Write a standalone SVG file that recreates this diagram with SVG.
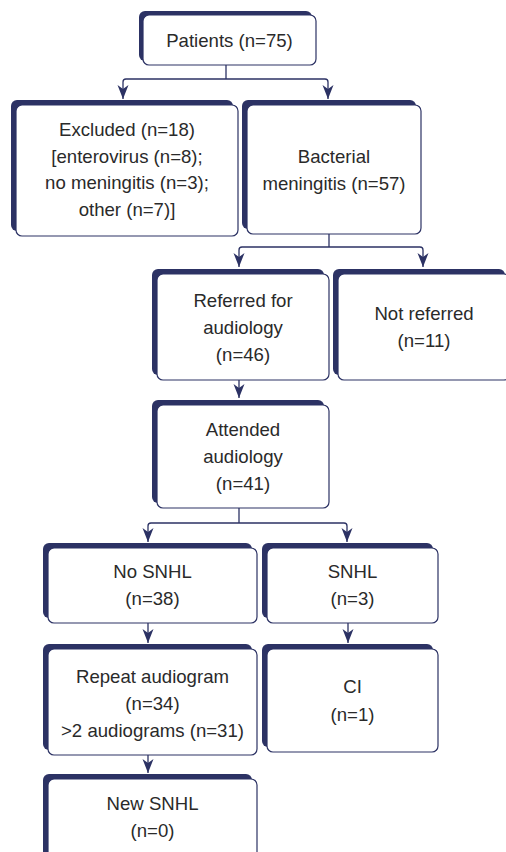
<svg xmlns="http://www.w3.org/2000/svg" width="506" height="852" viewBox="0 0 506 852">
<defs>
<style>
.sh{fill:#2c3264;}
.bx{fill:#fff;stroke:#2c3264;stroke-width:1.2;}
.t{font-family:"Liberation Sans",Arial,sans-serif;font-size:18.6px;fill:#2a2a2a;text-anchor:middle;}
.c{fill:none;stroke:#2c3264;stroke-width:1.3;}
</style>
<marker id="ah" markerUnits="userSpaceOnUse" markerWidth="17" markerHeight="14" viewBox="-15 -7 16 14" refX="0" refY="0" orient="auto">
<path d="M0,0 L-14,-5.5 L-10,0 L-14,5.5 Z" fill="#2c3264"/>
</marker>
</defs>
<rect width="506" height="852" fill="#fff"/>
<g id="connectors">
<path class="c" d="M226,65 V79"/>
<path class="c" d="M123,82 Q123,79 126,79 H325 Q328,79 328,82 V99" marker-end="url(#ah)"/>
<path class="c" d="M123,82 V99" marker-end="url(#ah)"/>
<path class="c" d="M329,234 V247"/>
<path class="c" d="M239,250 Q239,247 242,247 H420 Q423,247 423,250 V267" marker-end="url(#ah)"/>
<path class="c" d="M239,250 V267" marker-end="url(#ah)"/>
<path class="c" d="M239,380 V398" marker-end="url(#ah)"/>
<path class="c" d="M239,508 V523"/>
<path class="c" d="M148,526 Q148,523 151,523 H344 Q347,523 347,526 V542" marker-end="url(#ah)"/>
<path class="c" d="M148,526 V542" marker-end="url(#ah)"/>
<path class="c" d="M148,623 V643" marker-end="url(#ah)"/>
<path class="c" d="M348,623 V643" marker-end="url(#ah)"/>
<path class="c" d="M148,755 V773" marker-end="url(#ah)"/>
</g>
<g id="patients">
<rect class="sh" x="139" y="11" width="173" height="50" rx="6"/>
<rect class="bx" x="143" y="15" width="173" height="50" rx="6"/>
<text class="t" x="229.5" y="47">Patients (n=75)</text>
</g>
<g id="excluded">
<rect class="sh" x="11" y="100" width="222" height="131" rx="6"/>
<rect class="bx" x="16" y="105" width="222" height="131" rx="6"/>
<text class="t" x="127" y="136">Excluded (n=18)</text>
<text class="t" x="127" y="162.5">[enterovirus (n=8);</text>
<text class="t" x="127" y="189">no meningitis (n=3);</text>
<text class="t" x="127" y="215.5">other (n=7)]</text>
</g>
<g id="bacterial">
<rect class="sh" x="242" y="100" width="174" height="129" rx="6"/>
<rect class="bx" x="247" y="105" width="174" height="129" rx="6"/>
<text class="t" x="334" y="163">Bacterial</text>
<text class="t" x="334" y="189.5">meningitis (n=57)</text>
</g>
<g id="referred">
<rect class="sh" x="152" y="269" width="172" height="106" rx="6"/>
<rect class="bx" x="157" y="274" width="172" height="106" rx="6"/>
<text class="t" x="243" y="307">Referred for</text>
<text class="t" x="243" y="333.5">audiology</text>
<text class="t" x="243" y="360.5">(n=46)</text>
</g>
<g id="notreferred">
<rect class="sh" x="333" y="269" width="172" height="106" rx="6"/>
<rect class="bx" x="338" y="274" width="172" height="106" rx="6"/>
<text class="t" x="424" y="320">Not referred</text>
<text class="t" x="424" y="347">(n=11)</text>
</g>
<g id="attended">
<rect class="sh" x="152" y="400" width="172" height="103" rx="6"/>
<rect class="bx" x="157" y="405" width="172" height="103" rx="6"/>
<text class="t" x="243" y="436">Attended</text>
<text class="t" x="243" y="463">audiology</text>
<text class="t" x="243" y="490">(n=41)</text>
</g>
<g id="nosnhl">
<rect class="sh" x="43" y="543" width="209" height="75" rx="6"/>
<rect class="bx" x="48" y="548" width="209" height="75" rx="6"/>
<text class="t" x="152.5" y="578">No SNHL</text>
<text class="t" x="152.5" y="605">(n=38)</text>
</g>
<g id="snhl">
<rect class="sh" x="262" y="543" width="171" height="75" rx="6"/>
<rect class="bx" x="267" y="548" width="171" height="75" rx="6"/>
<text class="t" x="352.5" y="578">SNHL</text>
<text class="t" x="352.5" y="605">(n=3)</text>
</g>
<g id="repeat">
<rect class="sh" x="43" y="644" width="209" height="106" rx="6"/>
<rect class="bx" x="48" y="649" width="209" height="106" rx="6"/>
<text class="t" x="152.5" y="683">Repeat audiogram</text>
<text class="t" x="152.5" y="710">(n=34)</text>
<text class="t" x="152.5" y="737">&gt;2 audiograms (n=31)</text>
</g>
<g id="ci">
<rect class="sh" x="262" y="644" width="171" height="103" rx="6"/>
<rect class="bx" x="267" y="649" width="171" height="103" rx="6"/>
<text class="t" x="352.5" y="693">CI</text>
<text class="t" x="352.5" y="721">(n=1)</text>
</g>
<g id="newsnhl">
<rect class="sh" x="43" y="774" width="209" height="85" rx="6"/>
<rect class="bx" x="48" y="779" width="209" height="85" rx="6"/>
<text class="t" x="152.5" y="810">New SNHL</text>
<text class="t" x="152.5" y="837">(n=0)</text>
</g>
</svg>
